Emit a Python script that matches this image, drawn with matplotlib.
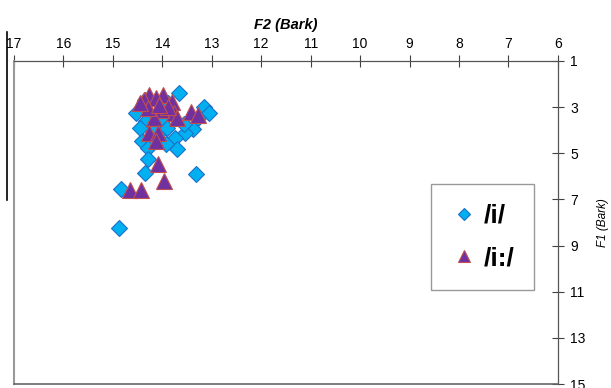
import matplotlib
matplotlib.use("Agg")
import matplotlib.pyplot as plt
from matplotlib.lines import Line2D

plt.rcParams["font.family"] = ["Liberation Sans", "DejaVu Sans"]

# /i/ tokens: F2 and F1 in Bark
i_f2 = [14.88, 14.84, 14.36, 13.31, 14.54, 13.67, 13.15, 13.05, 13.27, 13.37,
        13.55, 13.75, 13.71, 13.92, 14.32, 14.42, 14.28, 14.28, 14.36, 13.88,
        13.57, 14.06, 14.18, 14.00, 13.90, 14.45]
i_f1 = [8.25, 6.55, 5.85, 5.90, 3.27, 2.40, 3.00, 3.27, 3.45, 3.93,
        4.10, 4.32, 4.80, 4.58, 3.58, 4.45, 4.76, 5.24, 2.70, 2.83,
        3.71, 4.14, 3.88, 3.50, 3.90, 3.90]

# /i:/ tokens
ii_f2 = [14.26, 13.98, 14.38, 14.12, 13.81, 13.77, 14.02, 14.16, 13.71, 13.41,
         13.27, 14.26, 14.08, 14.12, 14.08, 13.96, 14.66, 14.44, 13.88, 14.28,
         14.46, 14.06]
ii_f1 = [2.48, 2.48, 2.70, 2.60, 2.79, 3.27, 3.14, 3.45, 3.45, 3.23,
         3.36, 4.10, 4.14, 4.45, 5.45, 6.20, 6.60, 6.60, 3.00, 3.05,
         2.83, 2.90]

x_ticks = list(range(6, 18))
y_ticks = list(range(1, 16, 2))

fig = plt.figure(figsize=(6.11, 3.88), dpi=100)
ax = fig.add_axes([0.0229, 0.0103, 0.8901, 0.8325])

ax.plot(i_f2, i_f1, linestyle="none", marker="D", markersize=8.3,
        markerfacecolor="#00B0F0", markeredgecolor="#1F6FC8",
        markeredgewidth=0.8, label="/i/")
ax.plot(ii_f2, ii_f1, linestyle="none", marker="^", markersize=11.5,
        markerfacecolor="#7030A0", markeredgecolor="#C0504D",
        markeredgewidth=0.8, label="/i:/")

ax.set_xlim(17, 6)
ax.set_ylim(15, 1)
ax.set_xticks(x_ticks)
ax.set_yticks(y_ticks)

ax.xaxis.tick_top()
ax.yaxis.tick_right()
ax.xaxis.set_label_position("top")
ax.yaxis.set_label_position("right")
ax.tick_params(axis="both", direction="inout", length=8, width=0.8,
               color="#404040", labelsize=10, labelcolor="black")
ax.tick_params(axis="x", pad=3)
ax.tick_params(axis="y", pad=5)

for side in ["top", "right"]:
    ax.spines[side].set_color("#555555")
    ax.spines[side].set_linewidth(0.9)
ax.spines["left"].set_color("#999999")
ax.spines["left"].set_linewidth(1.5)
ax.spines["bottom"].set_color("#666666")
ax.spines["bottom"].set_linewidth(1.2)

ax.set_xlabel("F2 (Bark)", fontsize=10.5, fontweight="bold", style="italic",
              labelpad=6)
ax.set_ylabel("F1 (Bark)", fontsize=8.5, style="italic", labelpad=8)

leg = ax.legend(loc="center", bbox_to_anchor=(0.861, 0.455), fontsize=19,
                frameon=True, fancybox=False, handletextpad=0.25,
                labelspacing=0.7, borderpad=0.75, handlelength=1.0,
                markerscale=0.7)
leg.get_frame().set_edgecolor("#808080")
leg.get_frame().set_linewidth(1.0)
for t in leg.get_texts():
    t.set_fontweight("bold")

# stray rule at the far left
fig.add_artist(Line2D([0.0115, 0.0115], [1 - 32 / 388, 1 - 200 / 388],
                      transform=fig.transFigure, color="black", linewidth=1.2))

fig.savefig("out.png", dpi=100)
